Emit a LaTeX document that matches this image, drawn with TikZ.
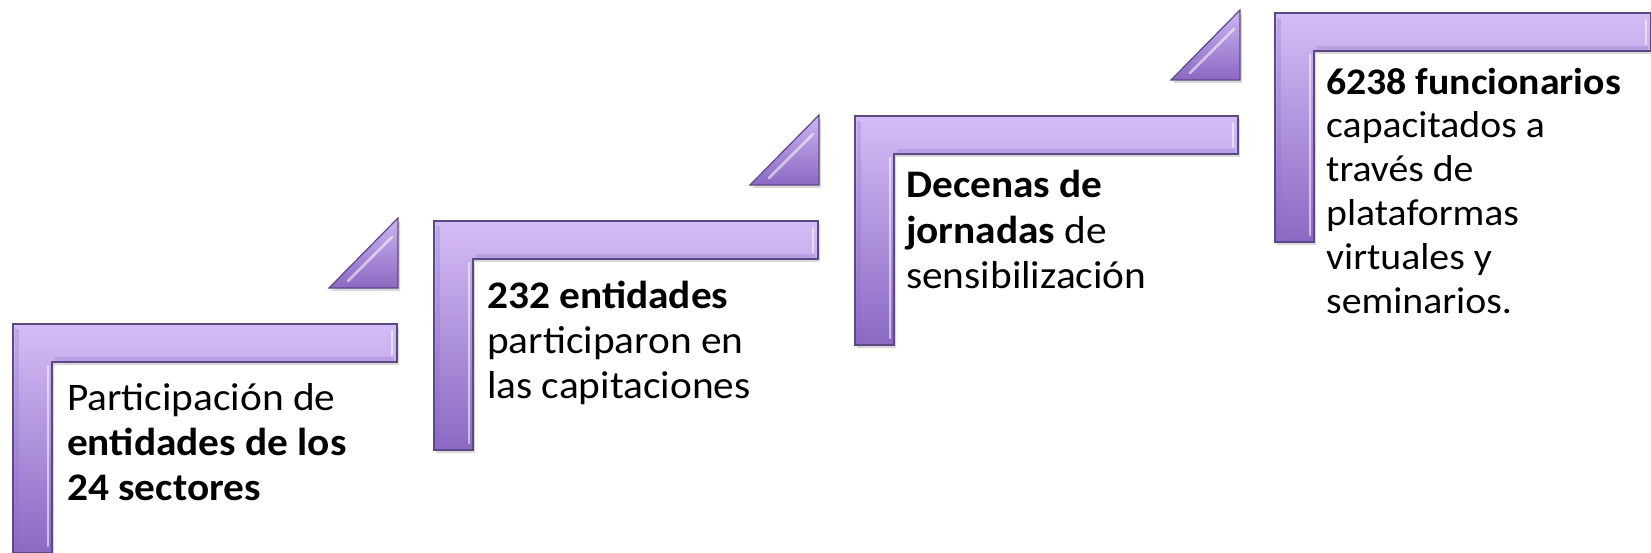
\documentclass[tikz,border=0pt]{standalone}
\usepackage{fontspec}
\setmainfont{Carlito}[FakeStretch=1.06]
\usepackage{tikz}
\usetikzlibrary{calc,shadows}
\definecolor{lilaclight}{HTML}{D4BDF6}
\definecolor{lilacdark}{HTML}{8B69C3}
\definecolor{lilacedge}{HTML}{5C4882}

\begin{document}
\begin{tikzpicture}[x=1pt,y=-1pt]
\tikzstyle{stepbar}=[draw=lilacedge,line width=1.2pt,top color=lilaclight,bottom color=lilacdark,
  drop shadow={shadow xshift=2pt,shadow yshift=-3pt,opacity=0.3}]
\tikzstyle{steptri}=[stepbar,top color=lilaclight!90!lilacdark]
\tikzstyle{glint}=[draw=white,line width=2.5pt,opacity=0.55,line cap=round]
\tikzstyle{shade}=[draw=lilacdark,line width=4pt,opacity=0.25]
\tikzstyle{steptext}=[anchor=base west,align=left,inner sep=0pt,font=\fontsize{39}{45}\selectfont]
\useasboundingbox (0,0) rectangle (1651,553);
\foreach \name/\point in {
	1/{13,324},
	2/{434,221},
	3/{855,116},
	4/{1275,13}}
	\coordinate (s\name) at (\point);
% the four steps
\foreach \name/\len in {1/384,2/384,3/383,4/376}{
  \begin{scope}[shift={(s\name)}]
    \path[stepbar] (0,0) -- (\len,0) -- (\len,38) -- (39,38) -- (39,229) -- (0,229) -- cycle;
    \draw[shade] (4,5) -- (4,226);
    \draw[shade] (42,35) -- (\len-3,35);
    \draw[glint] (35,42) -- (35,222);
    \draw[glint] (\len-5,7) -- (\len-5,31);
  \end{scope}
}
% small triangles between the steps
\foreach \name in {1,2,3}{
  \begin{scope}[shift={(s\name)}]
    \path[steptri] (316,-36) -- (385,-36) -- (385,-106) -- cycle;
    \draw[glint] (335,-43) -- (379,-87);
  \end{scope}
}
\node[steptext] (t1) at ($(s1)+(54,176)$) {Participación de\\\textbf{entidades de los}\\\textbf{24 sectores}};
\node[steptext] (t2) at ($(s2)+(53,177)$) {\textbf{232 entidades}\\participaron en\\las capitaciones};
\node[steptext] (t3) at ($(s3)+(51,172)$) {\textbf{Decenas de}\\\textbf{jornadas} de\\sensibilización};
\node[steptext,font=\fontsize{37.5}{43.8}\selectfont] (t4) at ($(s4)+(51,300)$) {\textbf{6238 funcionarios}\\capacitados a\\través de\\plataformas\\virtuales y\\seminarios.};
\end{tikzpicture}
\end{document}
